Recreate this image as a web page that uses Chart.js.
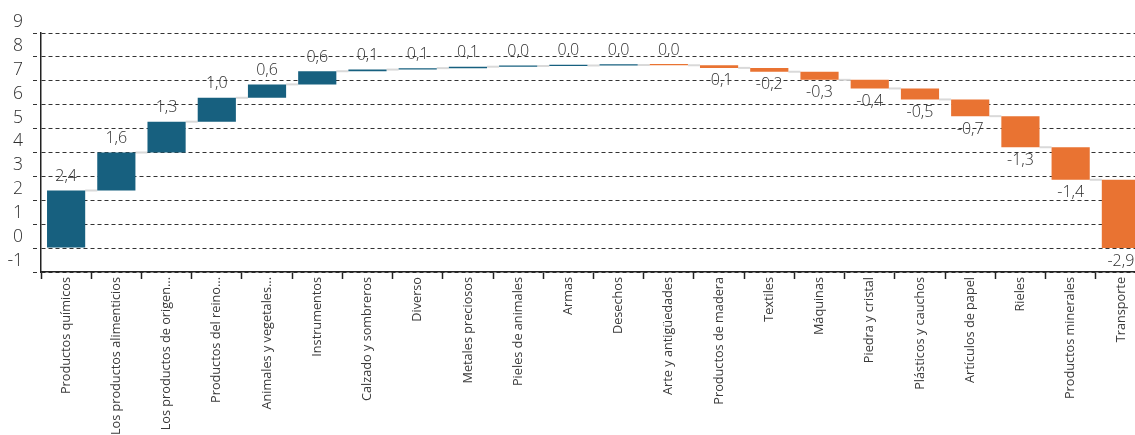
<!DOCTYPE html>
<html lang="es">
<head>
<meta charset="utf-8">
<title>Contribución por sector</title>
<script src="https://cdn.jsdelivr.net/npm/chart.js@4.4.1/dist/chart.umd.min.js"></script>
<style>
  html, body { margin: 0; padding: 0; background: #ffffff; overflow: hidden; }
  #wrap { width: 1146px; height: 435px; }
</style>
</head>
<body>
<div id="wrap"><canvas id="chart" width="1146" height="435"></canvas></div>
<script>
// Sector names along the x axis
const categories = [
  "Productos químicos", "Los productos alimenticios", "Los productos de origen...",
  "Productos del reino...", "Animales y vegetales...", "Instrumentos",
  "Calzado y sombreros", "Diverso", "Metales preciosos", "Pieles de animales",
  "Armas", "Desechos", "Arte y antigüedades", "Productos de madera", "Textiles",
  "Máquinas", "Piedra y cristal", "Plásticos y cauchos", "Artículos de papel",
  "Rieles", "Productos minerales", "Transporte"
];

// Change contributed by each sector (waterfall steps)
const changes = [
  2.41, 1.59, 1.29, 1.00, 0.56, 0.55, 0.07, 0.06, 0.06, 0.03, 0.02, 0.02,
  -0.01, -0.11, -0.16, -0.34, -0.36, -0.46, -0.70, -1.30, -1.36, -2.86
];

// Y axis tick values
const yTicks = [-1, 0, 1, 2, 3, 4, 5, 6, 7, 8, 9];

const BLUE = "#17607f";
const ORANGE = "#e97332";
const FONT = "'Open Sans', 'Noto Sans', sans-serif";
const TEXT = "#3a3a3a";

// running totals: levels[i] is the level before step i, levels[i+1] after it
const levels = [0];
changes.forEach(v => levels.push(levels[levels.length - 1] + v));
const floating = changes.map((v, i) => [levels[i], levels[i + 1]]);

function fmt(v) {
  const r = Math.round(v * 10) / 10;
  return (r === 0 ? 0 : r).toFixed(1).replace(".", ",");
}

const waterfallExtras = {
  id: "waterfallExtras",
  beforeDatasetsDraw(chart) {
    const meta = chart.getDatasetMeta(0);
    const y = chart.scales.y;
    const ctx = chart.ctx;
    ctx.save();
    ctx.strokeStyle = "#d9d9d9";
    ctx.lineWidth = 2;
    for (let i = 0; i < meta.data.length - 1; i++) {
      const a = meta.data[i], b = meta.data[i + 1];
      const py = y.getPixelForValue(levels[i + 1]);
      ctx.beginPath();
      ctx.moveTo(a.x + a.width / 2, py);
      ctx.lineTo(b.x - b.width / 2, py);
      ctx.stroke();
    }
    ctx.restore();
  },
  afterDatasetsDraw(chart) {
    const meta = chart.getDatasetMeta(0);
    const ctx = chart.ctx;
    ctx.save();
    ctx.font = "300 16px " + FONT;
    ctx.fillStyle = "#2e2e2e";
    ctx.textAlign = "center";
    meta.data.forEach((el, i) => {
      const r = Math.round(changes[i] * 10) / 10;
      const top = Math.min(el.y, el.base);
      const bottom = Math.max(el.y, el.base);
      if (r < 0) {
        ctx.textBaseline = "top";
        ctx.fillText(fmt(changes[i]), el.x, bottom + 5);
      } else {
        ctx.textBaseline = "bottom";
        ctx.fillText(fmt(changes[i]), el.x, top - 6);
      }
    });
    ctx.restore();
  }
};

new Chart(document.getElementById("chart"), {
  type: "bar",
  data: {
    labels: categories,
    datasets: [{
      data: floating,
      backgroundColor: changes.map(v => (v < 0 ? ORANGE : BLUE)),
      borderWidth: 0,
      borderSkipped: false,
      categoryPercentage: 1,
      barPercentage: 0.76,
      minBarLength: 1.3
    }]
  },
  options: {
    responsive: false,
    animation: false,
    layout: { padding: { top: 33, right: 0, bottom: 0, left: 0 } },
    plugins: { legend: { display: false }, tooltip: { enabled: false } },
    scales: {
      x: {
        offset: true,
        grid: {
          offset: true,
          drawOnChartArea: false,
          drawTicks: true,
          tickLength: 7,
          tickColor: "#222222",
          tickWidth: 1.5
        },
        border: { display: true, color: "#222222", width: 1.5 },
        ticks: {
          autoSkip: false,
          maxRotation: 90,
          minRotation: 90,
          padding: -2,
          color: TEXT,
          font: { family: FONT, size: 12.7, weight: "normal" }
        },
        afterFit(scale) { scale.height = 163; }
      },
      y: {
        min: -1,
        max: 9,
        afterBuildTicks(scale) { scale.ticks = yTicks.map(v => ({ value: v })); },
        grid: {
          color: "#333333",
          lineWidth: 1,
          tickLength: 8,
          tickColor: "#333333",
          tickBorderDash: [4, 3]
        },
        border: { display: true, color: "#222222", width: 1.5, dash: [4, 3] },
        ticks: {
          autoSkip: false,
          padding: 10,
          labelOffset: -11,
          color: "#2e2e2e",
          font: { family: FONT, size: 17.5, weight: "300" },
          callback: v => String(v)
        },
        afterFit(scale) { scale.width = 41; }
      }
    }
  },
  plugins: [waterfallExtras]
});
</script>
</body>
</html>
